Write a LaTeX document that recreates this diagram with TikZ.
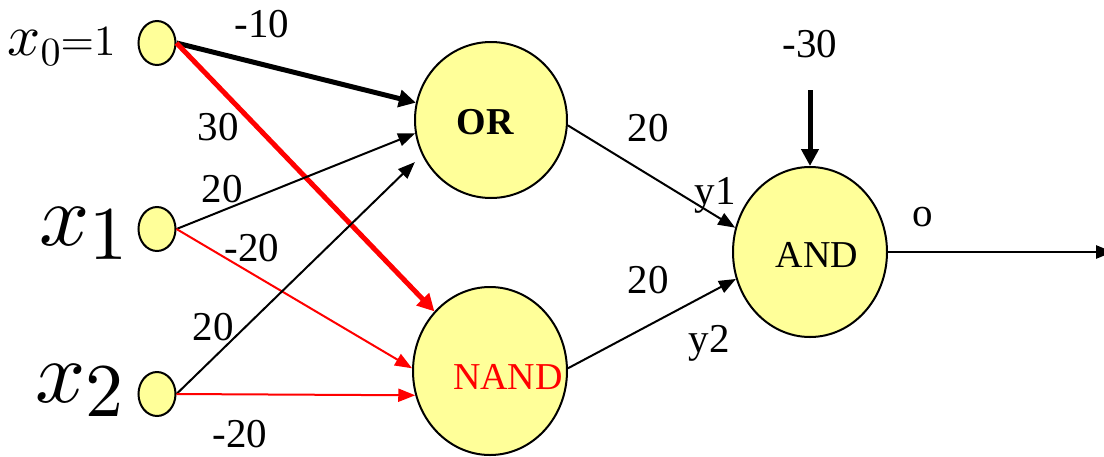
\documentclass[tikz,border=0pt]{standalone}
\usepackage{graphicx}
\usepackage{fontspec}
\setmainfont{Liberation Serif}
\newfontfamily\tnr{Liberation Serif}
\usetikzlibrary{arrows.meta,shapes.geometric}
\definecolor{nodeyellow}{RGB}{255,255,153}
\begin{document}
\begin{tikzpicture}[x=0.5pt,y=-0.5pt,
  inp/.style={ellipse,draw,line width=1pt,fill=nodeyellow,minimum width=18.5pt,minimum height=22pt,inner sep=0pt},
  gate/.style={ellipse,draw,line width=1pt,fill=nodeyellow,inner sep=0pt},
  wlabel/.style={font=\tnr\fontsize{20.5}{20.5}\selectfont,inner sep=0pt},
  glabel/.style={font=\tnr\fontsize{19}{19}\selectfont,inner sep=0pt},
  thinarrow/.style={line width=1pt,-{Triangle[length=8.5pt,width=6.5pt]}},
  thickarrow/.style={line width=2.5pt,-{Triangle[length=8.5pt,width=8.5pt]}}]
\useasboundingbox (0,0) rectangle (1104,456);
% input nodes
\node[inp] (x0) at (157,43) {};
\node[inp] (x1) at (157,229) {};
\node[inp] (x2) at (157,394) {};
% input labels
\node[anchor=base east,inner sep=0pt] (lx0) at (116,55) {\scalebox{2.9}{$x$}\raisebox{-5pt}{\scalebox{2.0}{$0$}}\scalebox{2.15}{${=}1$}};
\node[anchor=base east,inner sep=0pt] (lx1) at (128,245) {\scalebox{4.4}{$x$}\raisebox{-7pt}{\scalebox{3.8}{$1$}}};
\node[anchor=base east,inner sep=0pt] (lx2) at (124,402) {\scalebox{4.4}{$x$}\raisebox{-7pt}{\scalebox{3.8}{$2$}}};
% gates
\node[gate,minimum width=76pt,minimum height=78pt,
  label={[glabel,font=\tnr\bfseries\fontsize{19}{19}\selectfont,xshift=-3pt,yshift=-1pt]center:OR}] (or) at (491,120) {};
\node[gate,minimum width=77pt,minimum height=84pt,
  label={[glabel,text=red,xshift=9pt,yshift=-3pt]center:NAND}] (nand) at (490,371) {};
\node[gate,minimum width=77pt,minimum height=85pt,
  label={[glabel,xshift=3.5pt,yshift=-1.5pt]center:AND}] (and) at (810,252) {};
\coordinate (bias) at (810,90);
\coordinate (out) at (1113,252);
% edges
\draw[thickarrow] (x0.east) -- (or.167);
\draw[thickarrow,red] (x0.east) -- (nand.133);
\draw[thinarrow] (x1.east) -- (or.190);
\draw[thinarrow,red] (x1.east) -- (nand.178);
\draw[thinarrow,shorten >=5pt] (x2.east) -- (or.207);
\draw[thinarrow,red] (x2.east) -- (nand.198);
\draw[thinarrow] (or.-4) -- (and.162);
\draw[thinarrow] (nand.2) -- (and.200);
\draw[thickarrow] (bias) -- (and.north);
\draw[thinarrow,line width=1.3pt] (and.east) -- (out);
% weight labels
\node[wlabel] (w1) at (262,24) {-10};
\node[wlabel] (w2) at (218,127) {30};
\node[wlabel] (w3) at (222,189) {20};
\node[wlabel] (w4) at (252,248) {-20};
\node[wlabel] (w5) at (213,327) {20};
\node[wlabel] (w6) at (240,434) {-20};
\node[wlabel] (w7) at (648,128) {20};
\node[wlabel] (w8) at (648,280) {20};
\node[wlabel] (w9) at (810,44) {-30};
\node[wlabel] (y1) at (715,195) {y1};
\node[wlabel] (y2) at (709,343) {y2};
\node[wlabel] (o) at (923,217) {o};
\end{tikzpicture}
\end{document}
